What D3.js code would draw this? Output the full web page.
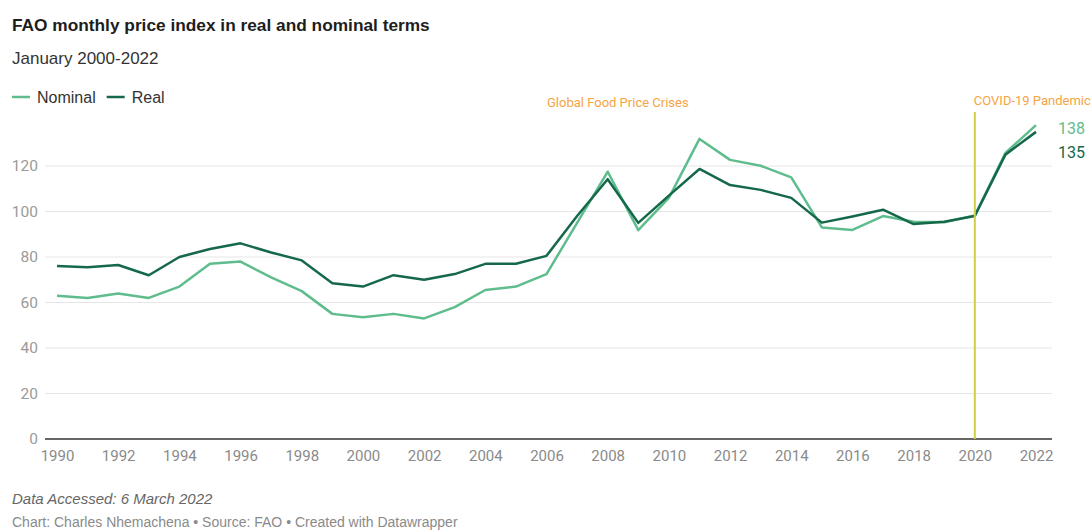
<!DOCTYPE html>
<html>
<head>
<meta charset="utf-8">
<script src="https://cdn.jsdelivr.net/npm/d3@7"></script>
<style>
  body { margin: 0; background: #fff; }
  svg { display: block; }
</style>
</head>
<body>
<svg id="chart" width="1091" height="532"></svg>
<script>
var years = d3.range(1990, 2023);
var nominal = [63, 62, 64, 62, 67, 77, 78, 71, 65, 55, 53.5, 55, 53, 58, 65.5, 67, 72.5, 95, 117.5, 91.8, 106, 131.9, 122.7, 120.1, 115, 93, 91.9, 98, 95.5, 95.3, 98.3, 125.7, 138];
var real = [76, 75.5, 76.5, 72, 80, 83.5, 86, 82, 78.5, 68.5, 67, 72, 70, 72.5, 77, 77, 80.5, 98, 114.2, 95, 107, 118.7, 111.6, 109.5, 106, 95.1, 97.8, 100.8, 94.5, 95.5, 98, 125, 135];
var yTicks = [0, 20, 40, 60, 80, 100, 120];
var xTicks = d3.range(1990, 2023, 2);
var seriesNames = ['Nominal', 'Real'];
var seriesColors = ['#5fbd8d', '#16684a'];

var MARGIN = { LEFT: 45, RIGHT: 1052, TOP: 112, BOTTOM: 439 };
var SANS = 'Liberation Sans, Arial, sans-serif';

var svg = d3.select('#chart');

var x = d3.scaleLinear().domain([1990, 2022]).range([57, 1036]);
var y = d3.scaleLinear().domain([0, 120]).range([MARGIN.BOTTOM, 166]);

// titles
svg.append('text').attr('x', 12).attr('y', 31)
    .style('font-family', SANS)
    .style('font-weight', 'bold').style('font-size', '17.3px').style('fill', '#1d1d1d')
    .text('FAO monthly price index in real and nominal terms');
svg.append('text').attr('x', 12).attr('y', 64)
    .style('font-family', SANS)
    .style('font-size', '17px').style('fill', '#333')
    .text('January 2000-2022');

// legend
var legend = svg.append('g').attr('transform', 'translate(12,97)');
var lx = 0;
seriesNames.forEach(function (name, i) {
    legend.append('line').attr('x1', lx).attr('x2', lx + 18).attr('y1', 0).attr('y2', 0)
        .style('stroke', seriesColors[i]).style('stroke-width', 2.5);
    var t = legend.append('text').attr('x', lx + 25).attr('y', 6)
        .style('font-family', SANS)
        .style('font-size', '16px').style('fill', '#333').text(name);
    lx += 25 + t.node().getComputedTextLength() + 11;
});

// grid
var grid = svg.append('g');
yTicks.forEach(function (v) {
    if (v > 0) {
        grid.append('line').attr('x1', MARGIN.LEFT).attr('x2', MARGIN.RIGHT)
            .attr('y1', y(v)).attr('y2', y(v))
            .style('stroke', '#e6e6e6').style('stroke-width', 1);
    }
    grid.append('text').attr('x', 38).attr('y', y(v) + 5)
        .attr('text-anchor', 'end')
        .style('font-family', 'Roboto, sans-serif').style('font-size', '15.5px')
        .style('fill', '#9a9a9a').text(v);
});

// x axis
var xAxis = d3.axisBottom(x).tickValues(xTicks).tickSize(0).tickPadding(11).tickFormat(d3.format('d'));
var xg = svg.append('g').attr('transform', 'translate(0,' + MARGIN.BOTTOM + ')').call(xAxis);
xg.select('.domain').remove();
xg.selectAll('text').style('font-family', 'Roboto, sans-serif').style('font-size', '15px').style('fill', '#8a8a8a');
svg.append('line').attr('x1', MARGIN.LEFT).attr('x2', MARGIN.RIGHT)
    .attr('y1', MARGIN.BOTTOM).attr('y2', MARGIN.BOTTOM)
    .style('stroke', '#333').style('stroke-width', 1.5);

// lines
var line = d3.line().x(function (d, i) { return x(years[i]); }).y(function (d) { return y(d); });
[nominal, real].forEach(function (s, i) {
    svg.append('path').datum(s).attr('d', line)
        .style('fill', 'none').style('stroke', seriesColors[i])
        .style('stroke-width', 2.5).style('stroke-linejoin', 'round');
});

// end labels
svg.append('text').attr('x', 1058).attr('y', y(nominal[nominal.length - 1]) + 9)
    .style('font-family', 'Roboto, sans-serif').style('font-size', '16px')
    .style('fill', seriesColors[0]).text(nominal[nominal.length - 1]);
svg.append('text').attr('x', 1058).attr('y', y(real[real.length - 1]) + 26)
    .style('font-family', 'Roboto, sans-serif').style('font-size', '16px')
    .style('fill', seriesColors[1]).text(real[real.length - 1]);

// annotations
svg.append('line').attr('x1', x(2020)).attr('x2', x(2020))
    .attr('y1', MARGIN.TOP).attr('y2', MARGIN.BOTTOM)
    .style('stroke', '#cfcf45').style('stroke-width', 2);
svg.append('text').attr('x', x(2020) - 1).attr('y', 105)
    .style('font-family', 'Roboto, sans-serif').style('font-size', '13px')
    .style('fill', '#f5a443').text('COVID-19 Pandemic');
svg.append('text').attr('x', 547).attr('y', 107)
    .style('font-family', 'Roboto, sans-serif').style('font-size', '13px')
    .style('fill', '#f5a443').text('Global Food Price Crises');

// footer
svg.append('text').attr('x', 12).attr('y', 504)
    .style('font-family', SANS).style('font-size', '15px')
    .style('font-style', 'italic').style('fill', '#666').text('Data Accessed: 6 March 2022');
svg.append('text').attr('x', 12).attr('y', 527)
    .style('font-family', SANS).style('font-size', '14px')
    .style('fill', '#8a8a8a').text('Chart: Charles Nhemachena \u2022 Source: FAO \u2022 Created with Datawrapper');
</script>
</body>
</html>
